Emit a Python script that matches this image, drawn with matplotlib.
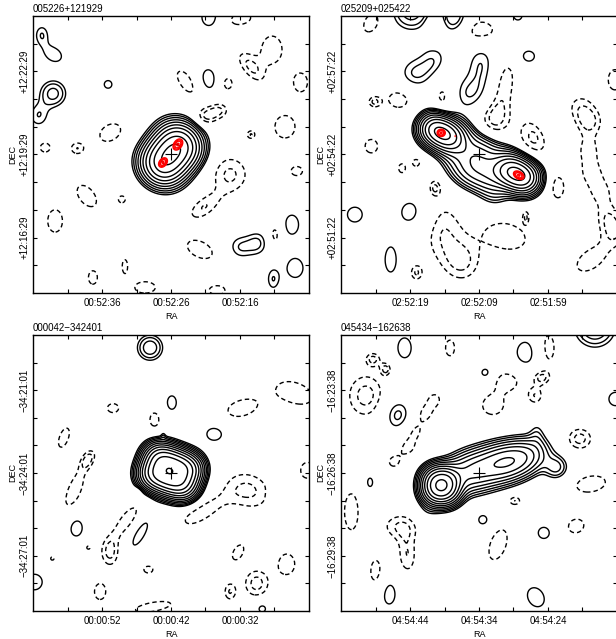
import numpy as np
import matplotlib
matplotlib.use("Agg")
import matplotlib.pyplot as plt

plt.rcParams['font.family'] = ['Liberation Sans', 'DejaVu Sans']

# field names
names = ["005226+121929", "025209+025422", "000042\u2212342401", "045434\u2212162638"]

# axis labels at offsets -2.5, 0, +2.5 (RA) and +3, 0, -3 (Dec)
ra_labels = [["00:52:36", "00:52:26", "00:52:16"],
             ["02:52:19", "02:52:09", "02:51:59"],
             ["00:00:52", "00:00:42", "00:00:32"],
             ["04:54:44", "04:54:34", "04:54:24"]]
dec_labels = [["+12:22:29", "+12:19:29", "+12:16:29"],
              ["+02:57:22", "+02:54:22", "+02:51:22"],
              ["\u221234:21:01", "\u221234:24:01", "\u221234:27:01"],
              ["\u221216:23:38", "\u221216:26:38", "\u221216:29:38"]]

# gaussian components: (x, y, peak, sig_a, sig_b, angle) in arcmin / units of lowest contour
src1 = [(-0.354, -0.421, 14, 0.42, 0.48, 50), (0.0, 0.0, 14, 0.42, 0.48, 50),
        (0.354, 0.421, 14, 0.42, 0.50, 50)]
src2 = [(-1.68, 0.95, 12, 0.33, 0.34, -28), (-1.37, 0.79, 12, 0.33, 0.34, -28),
        (-1.06, 0.63, 12, 0.33, 0.34, -28),
        (1.10, -0.56, 12, 0.33, 0.35, -28), (1.41, -0.72, 12, 0.33, 0.35, -28),
        (1.72, -0.88, 12, 0.33, 0.35, -28),
        (-0.7, 0.36, 5, 0.4, 0.45, -28), (0.0, -0.05, 5, 0.4, 0.45, -28),
        (0.7, -0.42, 5, 0.4, 0.45, -28),
        (-0.4, -0.55, 3.5, 0.5, 0.4, -28), (0.35, -0.85, 3.5, 0.5, 0.4, -28),
        (0.58, -1.55, 0.8, 0.35, 0.3, 0)]
src3 = [(-0.461, 0.537, 17, 0.33, 0.33, 0), (-0.667, -0.027, 17, 0.33, 0.33, 0),
        (-0.085, 0.400, 17, 0.33, 0.33, 0), (-0.291, -0.164, 17, 0.33, 0.33, 0),
        (0.291, 0.264, 17, 0.33, 0.33, 0), (0.085, -0.300, 17, 0.33, 0.33, 0),
        (0.667, 0.127, 15, 0.33, 0.33, 0), (0.461, -0.437, 15, 0.33, 0.33, 0),
        (-0.28, 1.36, 0.7, 0.06, 0.12, 0)]
src4 = [(-1.58, -0.25, 13, 0.32, 0.32, 0), (-1.18, -0.25, 13, 0.32, 0.32, 0),
        (-1.58, -0.65, 13, 0.32, 0.32, 0), (-1.18, -0.65, 13, 0.32, 0.32, 0),
        (1.47, 0.52, 8, 0.6, 0.4, 19),
        (-0.6, -0.05, 4.5, 0.45, 0.44, 19), (-0.1, 0.1, 4.5, 0.45, 0.44, 19),
        (0.4, 0.25, 4.5, 0.45, 0.44, 19), (0.9, 0.4, 4.5, 0.45, 0.42, 19),
        (2.1, 1.45, 0.9, 0.2, 0.35, 0), (2.8, 0.2, 2.2, 0.3, 0.3, 0),
        (-1.9, -1.45, 0.6, 0.3, 0.25, 0)]

# high resolution peaks (red)
hi1 = [(-0.29, -0.29, 3.0, 0.13, 0.09, 50), (0.25, 0.36, 3.0, 0.15, 0.10, 55)]
hi2 = [(-1.37, 0.78, 3.0, 0.10, 0.09, 0), (1.44, -0.75, 3.0, 0.14, 0.09, -30),
       (-0.86, 0.66, 1.1, 0.03, 0.03, 0)]
hi3 = []
hi4 = []

# background noise features
bg1 = [(-4.68, 4.33, 1.38, 0.22, 0.3, 0), (-4.26, 3.61, 1.38, 0.38, 0.28, -30),
       (-4.27, 2.2, 2.3, 0.35, 0.35, 0), (-4.8, 1.4, 1.38, 0.3, 0.35, 0),
       (-2.28, 2.53, 1.38, 0.17, 0.17, 0), (1.4, 4.95, 1.38, 0.35, 0.4, 0),
       (1.34, 2.7, 1.38, 0.3, 0.45, 0), (4.38, -2.53, 1.38, 0.3, 0.42, 0),
       (2.5, -3.35, 1.38, 0.35, 0.35, 0), (3.15, -3.2, 1.38, 0.3, 0.35, 0),
       (4.5, -4.1, 1.38, 0.35, 0.42, 0), (3.7, -4.5, 1.38, 0.2, 0.35, 0),
       (2.5, 4.9, -1.38, 0.45, 0.25, 10), (3.66, 3.79, -1.38, 0.45, 0.6, 0),
       (2.86, 3.18, -1.38, 0.6, 0.28, -51), (0.57, 2.6, -1.38, 0.6, 0.28, -53),
       (2.05, 2.56, -1.38, 0.2, 0.25, 0), (4.7, 2.6, -1.38, 0.3, 0.4, 0),
       (1.25, 1.35, -1.38, 0.3, 0.25, 0), (1.75, 1.6, -1.38, 0.3, 0.25, 0),
       (4.13, 1.0, -1.38, 0.45, 0.5, 0), (-2.2, 0.79, -1.38, 0.5, 0.35, 30),
       (-4.56, 0.25, -1.38, 0.22, 0.2, 0), (-3.4, 0.22, -1.38, 0.25, 0.22, 0),
       (2.14, -0.72, -1.5, 0.6, 0.6, 0), (4.56, -0.6, -1.38, 0.25, 0.2, 0),
       (-3.05, -1.5, -1.38, 0.55, 0.33, -51), (-1.78, -1.62, -1.38, 0.15, 0.15, 0),
       (1.16, -1.93, -1.38, 0.55, 0.3, 35), (-4.2, -2.4, -1.38, 0.33, 0.5, 0),
       (3.77, -2.9, -1.38, 0.18, 0.35, 0), (1.05, -3.43, -1.38, 0.6, 0.35, -25),
       (-1.67, -4.04, -1.38, 0.12, 0.3, 0), (-2.83, -4.44, -1.38, 0.2, 0.3, 0),
       (-0.94, -4.8, -1.4, 0.45, 0.25, 0), (1.67, -4.9, -1.38, 0.35, 0.2, 0),
       (2.9, 0.72, -1.38, 0.15, 0.15, 0)]

bg2 = [(-1.6, 3.36, 1.38, 0.4, 0.5, 0), (0.08, 3.3, 1.38, 0.38, 0.65, 0),
       (1.77, 3.55, 1.38, 0.3, 0.25, 0), (-2.36, 2.9, 1.38, 0.42, 0.45, 0),
       (-0.37, 2.17, 1.38, 0.5, 0.5, 0), (2.47, 1.44, 1.38, 0.75, 0.35, -62),
       (-4.5, -2.17, 1.38, 0.33, 0.33, 0), (-2.42, -2.1, 1.38, 0.52, 0.55, 0),
       (-3.2, -3.8, 1.38, 0.25, 0.55, 0), (-2.45, 5.2, 2.5, 0.5, 0.5, 0),
       (-0.88, 4.95, 2.0, 0.35, 0.45, 0), (1.4, 5.0, 1.38, 0.2, 0.2, 0),
       (-3.9, 4.76, -1.38, 0.3, 0.45, -30), (-1.63, 4.5, -1.38, 0.2, 0.3, 0),
       (0.03, 4.45, -1.6, 0.55, 0.4, 0), (-3.8, 1.9, -1.38, 0.2, 0.18, 0),
       (-2.9, 2.0, -1.38, 0.45, 0.38, 0), (-1.3, 2.1, -1.38, 0.3, 0.7, 0),
       (0.93, 2.53, -1.38, 0.35, 0.85, -10), (0.5, 1.26, -1.38, 0.45, 0.5, 0),
       (2.02, 0.66, -1.6, 0.5, 0.65, 0), (-3.9, 0.3, -1.38, 0.28, 0.3, 0),
       (-2.28, -0.3, -1.38, 0.15, 0.15, 0), (-2.79, -0.5, -1.38, 0.15, 0.2, 0),
       (-1.6, -1.2, -1.38, 0.18, 0.25, 0), (2.86, -1.2, -1.38, 0.25, 0.45, 0),
       (-1.37, -2.7, -1.38, 0.6, 0.9, 0), (1.0, -2.95, -1.38, 0.85, 0.55, -15),
       (-0.58, -3.9, -1.38, 0.55, 0.6, 0), (-2.27, -4.27, -1.38, 0.2, 0.25, 0),
       (4.06, -3.79, -1.38, 0.7, 0.4, 35), (1.7, -2.24, -1.2, 0.1, 0.2, 0),
       (3.66, 1.73, -1.1, 0.45, 0.45, 0), (4.02, 1.15, -1.3, 0.4, 0.4, 0),
       (3.95, 0.18, -1.1, 0.4, 0.4, 0), (4.06, -0.65, -1.1, 0.4, 0.4, 0),
       (4.42, -1.37, -1.1, 0.4, 0.4, 0), (4.67, -2.24, -1.1, 0.4, 0.4, 0),
       (4.93, -2.82, -1.1, 0.4, 0.4, 0), (4.93, 2.7, -1.38, 0.3, 0.45, 0)]

bg3 = [(-0.76, 4.54, 2.6, 0.33, 0.33, 0), (0.03, 2.55, 1.38, 0.2, 0.3, 0),
       (1.57, 1.42, 1.38, 0.35, 0.3, 0), (4.0, -0.81, 1.38, 0.25, 0.25, 0),
       (-3.44, -1.98, 1.38, 0.28, 0.38, 0), (-1.12, -2.2, 1.38, 0.6, 0.2, 60),
       (-4.95, -3.95, 1.38, 0.35, 0.35, 0), (3.3, -4.9, 1.38, 0.2, 0.2, 0),
       (-2.1, 2.35, -1.38, 0.25, 0.2, 0), (-0.6, 1.93, -1.38, 0.2, 0.3, 0),
       (2.57, 2.35, -1.38, 0.65, 0.35, 15), (4.5, 2.9, -1.38, 0.8, 0.45, -20),
       (-3.88, 1.28, -1.38, 0.2, 0.45, -20), (-3.0, 0.51, -1.38, 0.18, 0.3, -30),
       (-3.5, -0.63, -1.38, 0.8, 0.28, 68), (-1.23, -0.7, -1.2, 0.12, 0.12, 0),
       (2.8, -0.63, -1.5, 0.6, 0.8, 70), (1.05, -1.47, -1.38, 0.75, 0.3, 30),
       (4.95, 0.1, -1.38, 0.3, 0.35, 0), (-1.6, -1.7, -1.38, 0.65, 0.25, 53),
       (-2.2, -2.9, -1.5, 0.3, 0.45, 0), (-0.82, -3.5, -1.38, 0.2, 0.15, 0),
       (2.43, -2.87, -1.38, 0.2, 0.35, -30), (3.1, -4.0, -1.6, 0.4, 0.45, 0),
       (4.2, -3.3, -1.38, 0.35, 0.45, 0), (2.13, -4.3, -1.38, 0.2, 0.3, 0),
       (-2.57, -4.3, -1.38, 0.25, 0.35, 0), (-0.65, -4.85, -1.38, 0.8, 0.2, 10),
       (-4.3, -3.1, -1.2, 0.1, 0.1, 0), (-3.0, -2.7, -1.2, 0.1, 0.1, 0)]

bg4 = [(-2.7, 4.53, 1.38, 0.3, 0.45, 0), (1.7, 4.35, 1.38, 0.4, 0.5, 0),
       (0.24, 3.63, 1.38, 0.2, 0.2, 0), (-2.96, 2.1, 1.7, 0.38, 0.45, 0),
       (4.95, 2.68, 1.38, 0.3, 0.3, 0), (0.15, -1.7, 1.38, 0.2, 0.2, 0),
       (2.35, -2.17, 1.38, 0.25, 0.25, 0), (-3.27, -4.36, 1.38, 0.3, 0.5, 0),
       (2.06, -4.5, 1.38, 0.35, 0.45, 30), (4.2, 5.3, 3.0, 0.5, 0.5, 0),
       (-3.95, -0.34, 1.38, 0.12, 0.2, 0),
       (-3.84, 4.13, -1.38, 0.22, 0.2, 0), (-3.37, 3.77, -1.38, 0.15, 0.18, 0),
       (-1.05, 4.53, -1.38, 0.2, 0.35, 0), (2.5, 4.53, -1.38, 0.3, 0.65, 0),
       (1.05, 3.34, -1.38, 0.45, 0.35, 0), (2.25, 3.45, -1.38, 0.25, 0.2, 0),
       (2.03, 2.8, -1.38, 0.25, 0.28, 0), (0.5, 2.44, -1.38, 0.45, 0.4, 0),
       (-4.1, 2.8, -1.6, 0.6, 0.7, 0),
       (-1.6, 2.68, -1.1, 0.3, 0.3, 0), (-1.97, 2.14, -1.1, 0.3, 0.3, 0),
       (-2.33, 1.53, -1.1, 0.3, 0.3, 0), (-2.57, 0.93, -1.1, 0.3, 0.3, 0),
       (-3.1, 0.39, -1.1, 0.3, 0.3, 0),
       (3.65, 1.24, -1.6, 0.4, 0.35, 0), (4.06, -0.4, -1.38, 0.65, 0.35, 10),
       (1.3, -1.0, -1.38, 0.2, 0.15, 0), (3.52, -1.92, -1.38, 0.35, 0.3, 20),
       (-4.63, -1.4, -1.38, 0.3, 0.8, 0), (-2.87, -1.93, -1.38, 0.55, 0.4, 0),
       (-2.6, -3.0, -1.38, 0.3, 0.6, 0), (-3.73, -3.6, -1.38, 0.25, 0.55, 0),
       (0.69, -2.6, -1.38, 0.35, 0.7, -20)]

panels = [(names[i], ra_labels[i], dec_labels[i], s, h, b)
          for i, (s, h, b) in enumerate([(src1, hi1, bg1), (src2, hi2, bg2),
                                         (src3, hi3, bg3), (src4, hi4, bg4)])]

g = np.linspace(-5.3, 5.3, 500)
U, V = np.meshgrid(g, g)


def field(comps):
    Z = np.zeros_like(U)
    for x0, y0, amp, sa, sb, ang in comps:
        t = np.deg2rad(ang)
        du, dv = U - x0, V - y0
        xr = du * np.cos(t) + dv * np.sin(t)
        yr = -du * np.sin(t) + dv * np.cos(t)
        Z += amp * np.exp(-0.5 * ((xr / sa) ** 2 + (yr / sb) ** 2))
    return Z


pos_levels = np.sqrt(2) ** np.arange(0, 14)
neg_levels = [-np.sqrt(2), -1.0]
red_levels = [1.0, np.sqrt(2), 2.0, 2 * np.sqrt(2)]

fig = plt.figure(figsize=(6.16, 6.39), dpi=100)
boxes = [(0.0536, 0.5415, 0.448, 0.4335), (0.5536, 0.5415, 0.448, 0.4335),
         (0.0536, 0.0438, 0.448, 0.4320), (0.5536, 0.0438, 0.448, 0.4320)]

for box, (name, ras, decs, src, hi, bg) in zip(boxes, panels):
    ax = fig.add_axes(box)
    Z = field(src + bg)
    ax.contour(U, V, Z, levels=pos_levels, colors='k', linewidths=1.0,
               linestyles='solid')
    ax.contour(U, V, Z, levels=neg_levels, colors='k', linewidths=1.0,
               linestyles=[(0, (3.2, 2.2))])
    if hi:
        ax.contour(U, V, field(hi), levels=red_levels, colors='red',
                   linewidths=1.0, linestyles='solid')
    ax.plot(0, 0, '+', color='k', ms=8, mew=0.8)

    ax.set_xlim(-5, 5)
    ax.set_ylim(-5, 5)
    xt = np.arange(-3.75, 3.76, 1.25)
    ax.set_xticks(xt)
    ax.set_xticklabels([{-2.5: ras[0], 0.0: ras[1], 2.5: ras[2]}.get(round(x, 2), '')
                        for x in xt])
    yt = np.arange(-4, 5)
    ax.set_yticks(yt)
    ax.set_yticklabels([{3: decs[0], 0: decs[1], -3: decs[2]}.get(int(y), '')
                        for y in yt])
    ax.tick_params(direction='in', length=3, width=0.8, top=True, right=True,
                   labelsize=7)
    ax.tick_params(axis='x', pad=3.5)
    ax.tick_params(axis='y', pad=2.5)
    for lab in ax.get_yticklabels():
        lab.set_rotation(90)
        lab.set_va('center')
    for sp in ax.spines.values():
        sp.set_linewidth(1.0)
    ax.set_xlabel('RA', fontsize=6.5, labelpad=3)
    ax.set_ylabel('DEC', fontsize=6.5, labelpad=1.5)
    ax.set_title(name, loc='left', fontsize=7, pad=3)

fig.savefig('out.png', dpi=100)
